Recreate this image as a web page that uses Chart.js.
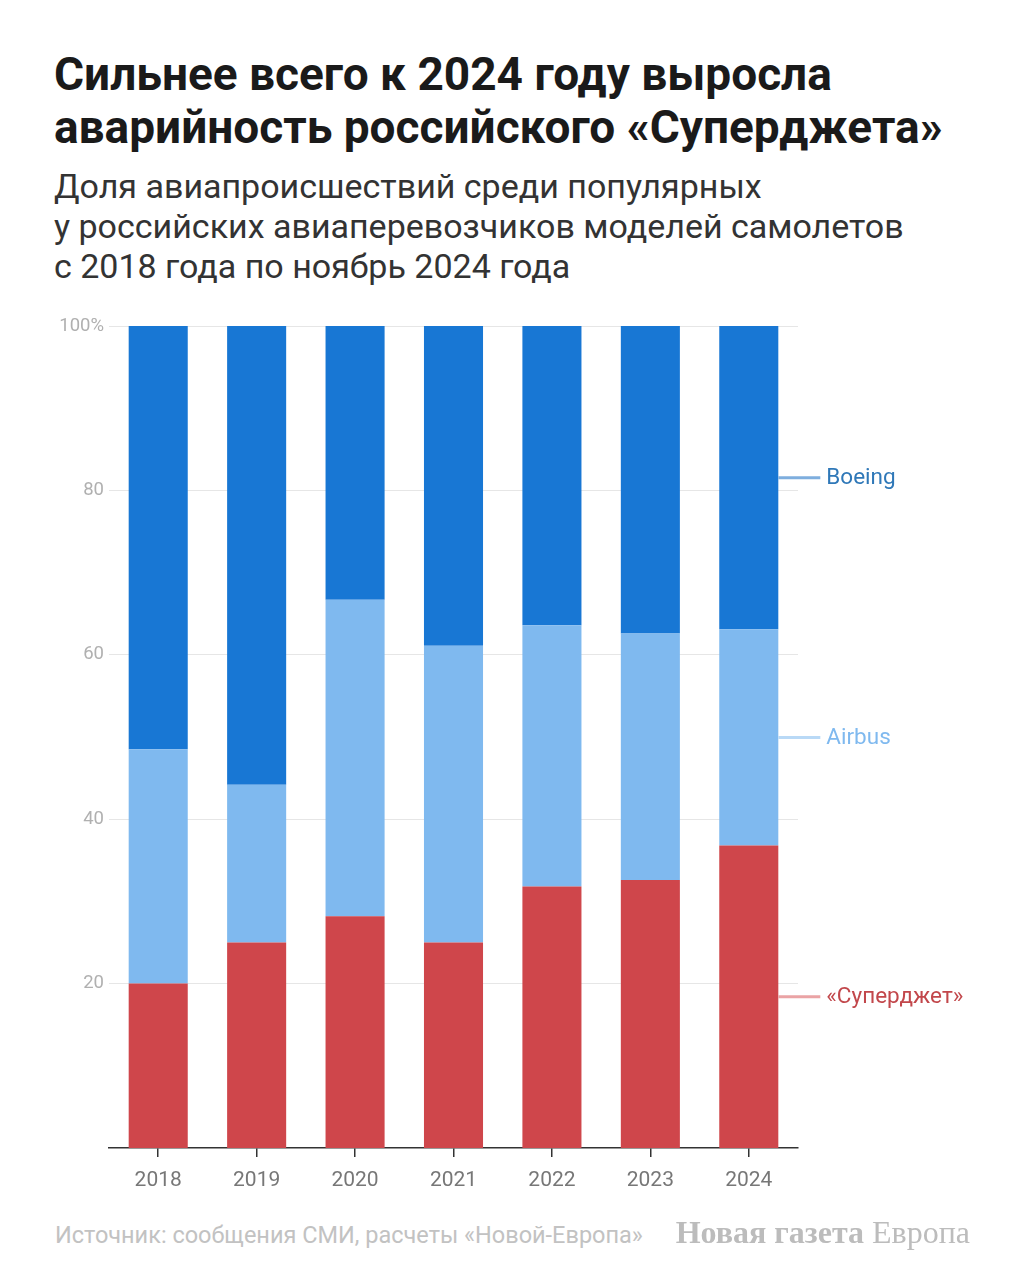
<!DOCTYPE html>
<html lang="ru">
<head>
<meta charset="utf-8">
<script src="https://cdn.jsdelivr.net/npm/chart.js@4"></script>
<style>
  html, body { margin: 0; padding: 0; background: #fff; }
  body { width: 1024px; height: 1280px; position: relative; font-family: Roboto, sans-serif; }
  h1 { position: absolute; left: 54px; top: 48px; margin: 0; font-size: 46px; line-height: 53px; font-weight: 700; color: #1a1a1a; }
  .sub { position: absolute; left: 54px; top: 166px; margin: 0; font-size: 34px; line-height: 40px; color: #333; }
  #wrap { position: absolute; left: 0; top: 300px; width: 1024px; height: 920px; }
  .source { position: absolute; left: 55px; top: 1221px; font-size: 23.5px; color: #c2c2c2; }
  .logo { position: absolute; right: 54px; top: 1214px; font-family: "Liberation Serif", "DejaVu Serif", serif; font-size: 32px; color: #bcbcbc; }
  .logo b { font-weight: 700; }
</style>
</head>
<body>
<h1>Сильнее всего к 2024 году выросла<br>аварийность российского «Суперджета»</h1>
<p class="sub">Доля авиапроисшествий среди популярных<br>у российских авиаперевозчиков моделей самолетов<br>с 2018 года по ноябрь 2024 года</p>
<div id="wrap"><canvas id="chart"></canvas></div>
<div class="source">Источник: сообщения СМИ, расчеты «Новой-Европа»</div>
<div class="logo"><b>Новая газета</b> Европа</div>
<script>
// data (percent of incidents)
const years = ['2018', '2019', '2020', '2021', '2022', '2023', '2024'];
const superjet = [20, 25, 28.2, 25, 31.8, 32.6, 36.8];
const airbus = [28.5, 19.2, 38.5, 36.1, 31.8, 30.0, 26.3];
const boeing = [51.5, 55.8, 33.3, 38.9, 36.4, 37.4, 36.9];
const yTicks = [20, 40, 60, 80, 100];

// labels on the right, next to the last bar
const sideLabels = {
  id: 'sideLabels',
  afterDatasetsDraw(chart) {
    const ctx = chart.ctx;
    chart.data.datasets.forEach((ds, i) => {
      const meta = chart.getDatasetMeta(i);
      const bar = meta.data[meta.data.length - 1];
      const y = (bar.y + bar.base) / 2;
      const x = bar.x + bar.width / 2;
      ctx.save();
      ctx.strokeStyle = ds.lineColor;
      ctx.lineWidth = 3;
      ctx.beginPath();
      ctx.moveTo(x, y);
      ctx.lineTo(x + 42, y);
      ctx.stroke();
      ctx.fillStyle = ds.textColor;
      ctx.font = '22.5px Roboto';
      ctx.textBaseline = 'middle';
      ctx.fillText(ds.label, x + 48, y + 1);
      ctx.restore();
    });
  }
};

new Chart(document.getElementById('chart'), {
  type: 'bar',
  data: {
    labels: years,
    datasets: [
      { label: '«Суперджет»', data: superjet, backgroundColor: '#cf464b', lineColor: '#eaa3a5', textColor: '#c2474b' },
      { label: 'Airbus', data: airbus, backgroundColor: '#7fb9ef', lineColor: '#b9d9f6', textColor: '#7fb9ef' },
      { label: 'Boeing', data: boeing, backgroundColor: '#1877d4', lineColor: '#7eaede', textColor: '#2f78b8' }
    ]
  },
  options: {
    responsive: true,
    maintainAspectRatio: false,
    animation: false,
    categoryPercentage: 1,
    barPercentage: 0.6,
    layout: { padding: { left: 0, right: 226, top: 26, bottom: 0 } },
    plugins: { legend: { display: false }, tooltip: { enabled: false } },
    scales: {
      x: {
        stacked: true,
        grid: { offset: false, drawOnChartArea: false, color: '#333', tickLength: 9, lineWidth: 1.5 },
        border: { display: true, color: '#333', width: 1.5 },
        ticks: { color: '#777', font: { family: 'Roboto', size: 21 }, padding: 11 },
        afterFit(scale) { scale.height = 72; }
      },
      y: {
        stacked: true,
        min: 0,
        max: 100,
        afterBuildTicks(scale) { scale.ticks = yTicks.map(v => ({ value: v })); },
        grid: { color: '#e6e6e6', drawTicks: false },
        border: { display: false },
        ticks: {
          color: '#b0b0b0',
          font: { family: 'Roboto', size: 18.5 },
          padding: 5,
          callback: v => v === 100 ? '100%' : v
        },
        afterFit(scale) { scale.width = 109; }
      }
    }
  },
  plugins: [sideLabels]
});
</script>
</body>
</html>
